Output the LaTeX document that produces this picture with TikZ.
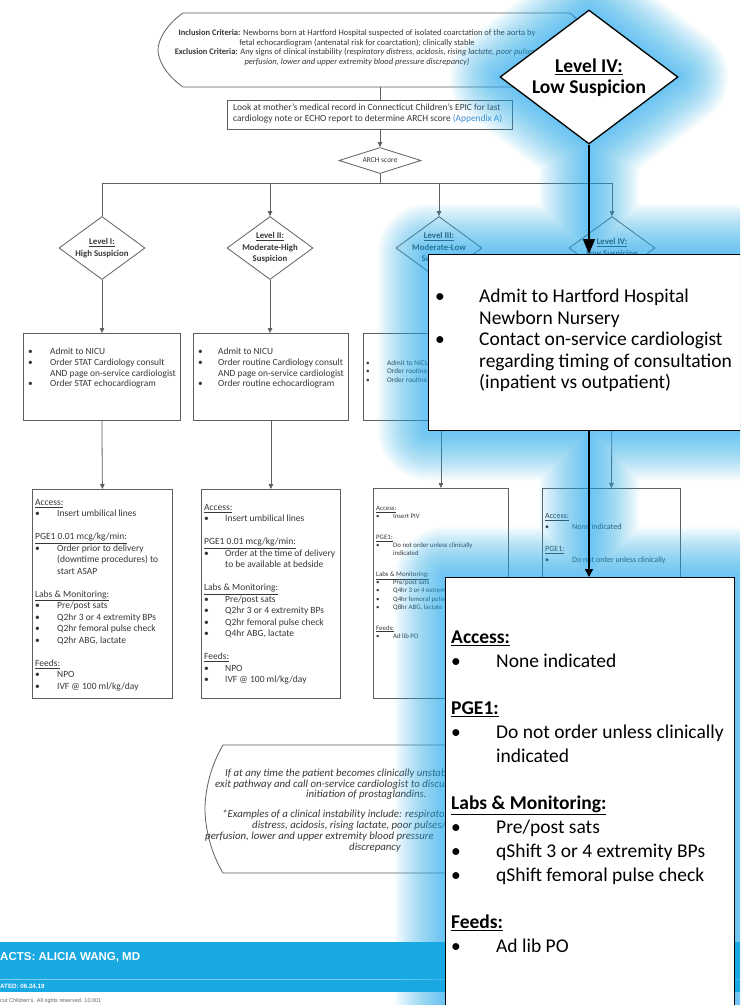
\documentclass[tikz,border=0pt]{standalone}
\usepackage{fontspec}
\setmainfont{Carlito}
\newfontfamily\arialfont{Liberation Sans}
\usetikzlibrary{shapes.geometric,arrows.meta}
\definecolor{glowblue}{RGB}{35,175,242}
\definecolor{bannerblue}{RGB}{24,168,226}
\definecolor{fadetext}{RGB}{55,55,55}
\definecolor{fadeline}{RGB}{95,95,95}
\definecolor{linkblue}{RGB}{60,140,210}
\newcommand{\bul}[2]{\makebox[#1][l]{\textbullet}#2}
\newcommand{\cnt}[2]{\hspace*{#1}#2}
\begin{document}
\begin{tikzpicture}[x=1pt,y=-1pt,
  fline/.style={draw=fadeline,line width=0.8pt},
  farrow/.style={fline,-{Triangle[width=4.5pt,length=5pt]}},
  fbox/.style={fline,rectangle,inner sep=0pt,anchor=north west},
  fdiam/.style={fline,diamond,inner sep=0pt,aspect=1.37,minimum width=86pt,minimum height=63pt},
  ftxt/.style={text=fadetext,inner sep=0pt,align=left,anchor=north west},
  dtxt/.style={text=fadetext,inner sep=0pt,align=center,font=\fontsize{8.8}{11.5}\selectfont\bfseries},
  ntxt/.style={text=fadetext,inner sep=0pt,font=\fontsize{10.8}{11}\selectfont\itshape},
  ovbox/.style={draw=black,line width=1.3pt,fill=white,rectangle,inner sep=0pt,anchor=north west},
  ovtxt/.style={text=black,inner sep=0pt,align=left,anchor=north west},
  ovarrow/.style={draw=black,line width=1.5pt,-{Triangle[width=12pt,length=15pt]}},
  ovarrowsm/.style={draw=black,line width=1.5pt,-{Triangle[width=8pt,length=8pt]}},
]
\useasboundingbox (0,0) rectangle (740,1005);
\clip (0,0) rectangle (740,1005);
\fill[white] (0,0) rectangle (740,1005);

% ---------------- faded background flowchart ----------------
% top criteria box
\draw[fline] (183,13) -- (570,13) .. controls (585,25) and (590,40) .. (590,50)
  .. controls (590,60) and (585,75) .. (570,87) -- (183,87)
  .. controls (166,75) and (158,60) .. (158,50) .. controls (158,40) and (166,25) .. (183,13) -- cycle;
\node[text=fadetext,inner sep=0pt,align=center,font=\fontsize{8.5}{9.6}\selectfont] (crit) at (357,47.5)
  {\textbf{Inclusion Criteria:} Newborns born at Hartford Hospital suspected of isolated coarctation of the aorta by\\
   fetal echocardiogram (antenatal risk for coarctation); clinically stable\\
   \textbf{Exclusion Criteria:} Any signs of clinical instability (\textit{respiratory distress, acidosis, rising lactate, poor pulses/}\\
   \textit{perfusion, lower and upper extremity blood pressure discrepancy)}};
\coordinate (critb) at (380,87);

% EPIC box
\node[fbox,minimum width=285pt,minimum height=29pt] (epic) at (227,100) {};
\node[ftxt,font=\fontsize{9.4}{11}\selectfont] (epict) at (233,104)
  {Look at mother's medical record in Connecticut Children's EPIC for last\\
   cardiology note or ECHO report to determine ARCH score \textcolor{linkblue}{(Appendix A)}};
\draw[fline] (critb) -- (critb |- epic.north);

% ARCH diamond
\node[fline,diamond,inner sep=0pt,aspect=3.15,minimum width=82pt,minimum height=26pt] (arch) at (380,160.5) {};
\node[text=fadetext,inner sep=0pt,font=\fontsize{7.5}{8}\selectfont] (archt) at (arch) {ARCH score};
\draw[farrow] (arch.north |- epic.south) -- (arch.north);

% level diamonds
\node[fdiam] (lv1) at (102,248) {};
\node[fdiam] (lv2) at (270,248) {};
\node[fdiam] (lv3) at (439,248) {};
\node[fdiam] (lv4) at (612,248) {};
\node[dtxt] (lv1t) at (lv1) {\underline{Level I:}\\High Suspicion};
\node[dtxt] (lv2t) at (lv2) {\underline{Level II:}\\Moderate-High\\Suspicion};
\node[dtxt] (lv3t) at (lv3) {\underline{Level III:}\\Moderate-Low\\Suspicion};
\node[dtxt] (lv4t) at (lv4) {\underline{Level IV:}\\Low Suspicion};

\coordinate (hub) at (380,183);
\coordinate (h1) at (lv1.north |- hub);
\coordinate (h2) at (lv2.north |- hub);
\coordinate (h3) at (lv3.north |- hub);
\coordinate (h4) at (lv4.north |- hub);
\draw[fline] (arch.south) -- (hub);
\draw[fline] (h1) -- (h4);
\draw[fline] (h1) -- (lv1.north);
\draw[farrow] (h2) -- (lv2.north);
\draw[farrow] (h3) -- (lv3.north);
\draw[farrow] (h4) -- (lv4.north);

% row 1 boxes
\node[fbox,minimum width=157pt,minimum height=87pt] (ra1) at (23,333) {};
\node[fbox,minimum width=155pt,minimum height=87pt] (ra2) at (193,333) {};
\node[fbox,minimum width=155pt,minimum height=87pt] (ra3) at (363,333) {};
\node[fbox,minimum width=157pt,minimum height=87pt] (ra4) at (533,333) {};
\node[ftxt,font=\fontsize{9.4}{10.7}\selectfont] (ra1t) at (28,348)
  {\bul{22pt}{Admit to NICU}\\
   \bul{22pt}{Order STAT Cardiology consult}\\
   \cnt{22pt}{AND page on-service cardiologist}\\
   \bul{22pt}{Order STAT echocardiogram}};
\node[ftxt,font=\fontsize{9.4}{10.7}\selectfont] (ra2t) at (198,348)
  {\bul{20pt}{Admit to NICU}\\
   \bul{20pt}{Order routine Cardiology consult}\\
   \cnt{20pt}{AND page on-service cardiologist}\\
   \bul{20pt}{Order routine echocardiogram}};
\node[ftxt,font=\fontsize{7.2}{8.5}\selectfont] (ra3t) at (366,360)
  {\bul{21pt}{Admit to NICU}\\
   \bul{21pt}{Order routine Cardiology consult}\\
   \bul{21pt}{Order routine echocardiogram}};
\draw[farrow] (lv1.south) -- (lv1.south |- ra1.north);
\draw[farrow] (lv2.south) -- (lv2.south |- ra2.north);
\draw[farrow] (lv3.south) -- (lv3.south |- ra3.north);
\draw[farrow] (lv4.south) -- (lv4.south |- ra4.north);

% row 2 boxes
\node[fbox,minimum width=140pt,minimum height=209pt] (rb1) at (32,489) {};
\node[fbox,minimum width=139pt,minimum height=209pt] (rb2) at (201,489) {};
\node[fbox,minimum width=135pt,minimum height=210pt] (rb3) at (373,488) {};
\node[fbox,minimum width=138pt,minimum height=210pt] (rb4) at (542,488) {};
\draw[farrow] (ra1.south) -- (rb1.north);
\draw[farrow] (ra2.south) -- (rb2.north);
\draw[farrow] (ra3.south) -- (rb3.north);
\draw[farrow] (ra4.south) -- (rb4.north);

\node[ftxt,font=\fontsize{9.5}{11.5}\selectfont] (rb1t) at (35,499)
  {\underline{Access:}\\
   \bul{22pt}{Insert umbilical lines}\\[11.5pt]
   \underline{PGE1 0.01 mcg/kg/min:}\\
   \bul{22pt}{Order prior to delivery}\\
   \cnt{22pt}{(downtime procedures) to}\\
   \cnt{22pt}{start ASAP}\\[11.5pt]
   \underline{Labs \& Monitoring:}\\
   \bul{22pt}{Pre/post sats}\\
   \bul{22pt}{Q2hr 3 or 4 extremity BPs}\\
   \bul{22pt}{Q2hr femoral pulse check}\\
   \bul{22pt}{Q2hr ABG, lactate}\\[11.5pt]
   \underline{Feeds:}\\
   \bul{22pt}{NPO}\\
   \bul{22pt}{IVF @ 100 ml/kg/day}};
\node[ftxt,font=\fontsize{9.5}{11.5}\selectfont] (rb2t) at (204,504)
  {\underline{Access:}\\
   \bul{21pt}{Insert umbilical lines}\\[11.5pt]
   \underline{PGE1 0.01 mcg/kg/min:}\\
   \bul{21pt}{Order at the time of delivery}\\
   \cnt{21pt}{to be available at bedside}\\[11.5pt]
   \underline{Labs \& Monitoring:}\\
   \bul{21pt}{Pre/post sats}\\
   \bul{21pt}{Q2hr 3 or 4 extremity BPs}\\
   \bul{21pt}{Q2hr femoral pulse check}\\
   \bul{21pt}{Q4hr ABG, lactate}\\[11.5pt]
   \underline{Feeds:}\\
   \bul{21pt}{NPO}\\
   \bul{21pt}{IVF @ 100 ml/kg/day}};
\node[ftxt,font=\fontsize{6.8}{8.2}\selectfont] (rb3t) at (376,506)
  {\underline{Access:}\\
   \bul{17pt}{Insert PIV}\\[12.5pt]
   \underline{PGE1:}\\
   \bul{17pt}{Do not order unless clinically}\\
   \cnt{17pt}{indicated}\\[12.5pt]
   \underline{Labs \& Monitoring:}\\
   \bul{17pt}{Pre/post sats}\\
   \bul{17pt}{Q4hr 3 or 4 extremity BPs}\\
   \bul{17pt}{Q4hr femoral pulse check}\\
   \bul{17pt}{Q8hr ABG, lactate}\\[12.5pt]
   \underline{Feeds:}\\
   \bul{17pt}{Ad lib PO}};
\node[ftxt,font=\fontsize{8}{11}\selectfont] (rb4t) at (545,513.5)
  {\underline{Access:}\\
   \bul{27pt}{None indicated}\\[11pt]
   \underline{PGE1:}\\
   \bul{27pt}{Do not order unless clinically}};

% bottom note box
\draw[fline] (223,745) -- (505,745) .. controls (517,765) and (523,790) .. (523,809)
  .. controls (523,828) and (517,853) .. (505,873) -- (223,873)
  .. controls (211,853) and (205,828) .. (205,809) .. controls (205,790) and (211,765) .. (223,745) -- cycle;
\node[ntxt,anchor=base west] (n1) at (225,776) {If at any time the patient becomes clinically unstable*,};
\node[ntxt,anchor=base west] (n2) at (215,787) {exit pathway and call on-service cardiologist to discuss};
\node[ntxt,anchor=base west] (n3) at (306,797.5) {initiation of prostaglandins.};
\node[ntxt,anchor=base west] (n5) at (222,817) {*Examples of a clinical instability include: respiratory};
\node[ntxt,anchor=base west] (n6) at (252,828.5) {distress, acidosis, rising lactate, poor pulses/};
\node[ntxt,anchor=base west] (n7) at (205,839.5) {perfusion, lower and upper extremity blood pressure};
\node[ntxt,anchor=base west] (n8) at (349,850.5) {discrepancy};

% footer banner
\fill[bannerblue] (0,942) rectangle (740,992);
\draw[white,opacity=0.45,line width=0.6pt] (0,979) -- (740,979);
\node[anchor=west,inner sep=0pt,text=white,font=\arialfont\bfseries\fontsize{11.5}{13}\selectfont] (contacts) at (0,957) {ACTS: ALICIA WANG, MD};
\node[anchor=west,inner sep=0pt,text=white,font=\arialfont\bfseries\fontsize{6.2}{7}\selectfont] (updated) at (0,986.5) {ATED: 06.24.19};
\node[anchor=west,inner sep=0pt,text=black!60,font=\arialfont\fontsize{5.5}{6}\selectfont] (copy) at (0,1001) {cut Children's. All rights reserved. 10.001};

% ---------------- blue glow (soft halo) ----------------
\foreach \d in {4,8,...,100} {
  \draw[glowblue,opacity=0.04,line width=\d pt,line join=round,line cap=round]
    (500,77) -- (589,10) -- (678,77) -- (589,144) -- cycle
    (589,144) -- (589,254)
    (428,254) rectangle (741,430)
    (589,430) -- (589,577)
    (445,577) rectangle (734,1040);
}

% ---------------- overlay (enlarged Level IV path) ----------------
\node[diamond,draw=black,line width=1.3pt,fill=white,inner sep=0pt,aspect=1.33,minimum width=178pt,minimum height=134pt] (ovd) at (589,77) {};
\node[inner sep=0pt,align=center,font=\fontsize{19.5}{21}\selectfont\bfseries] (ovdt) at (589,78) {\underline{Level IV:}\\Low Suspicion};

\node[ovbox,minimum width=313pt,minimum height=176pt] (ob1) at (428,254) {};
\node[ovtxt,font=\fontsize{19.5}{21.5}\selectfont] (ob1t) at (435,288.8)
  {\bul{44pt}{Admit to Hartford Hospital}\\
   \cnt{44pt}{Newborn Nursery}\\
   \bul{44pt}{Contact on-service cardiologist}\\
   \cnt{44pt}{regarding timing of consultation}\\
   \cnt{44pt}{(inpatient vs outpatient)}};

\node[ovbox,minimum width=289pt,minimum height=460pt] (ob2) at (445,577) {};
\node[ovtxt,font=\fontsize{19.5}{24}\selectfont] (ob2t) at (451,630.8)
  {\textbf{\underline{Access:}}\\
   \bul{45pt}{None indicated}\\[23pt]
   \textbf{\underline{PGE1:}}\\
   \bul{45pt}{Do not order unless clinically}\\
   \cnt{45pt}{indicated}\\[23pt]
   \textbf{\underline{Labs \& Monitoring:}}\\
   \bul{45pt}{Pre/post sats}\\
   \bul{45pt}{qShift 3 or 4 extremity BPs}\\
   \bul{45pt}{qShift femoral pulse check}\\[23pt]
   \textbf{\underline{Feeds:}}\\
   \bul{45pt}{Ad lib PO}};

\draw[ovarrow] (ovd.south) -- (ovd.south |- ob1.north);
\draw[ovarrowsm] (ovd.south |- ob1.south) -- (ovd.south |- ob2.north);
\end{tikzpicture}
\end{document}
